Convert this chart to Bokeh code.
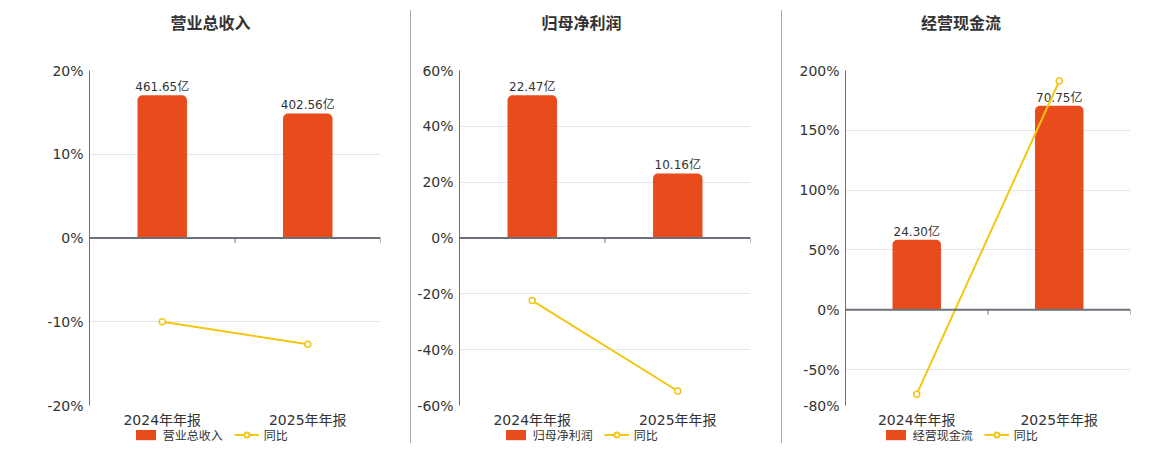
from bokeh.plotting import figure
from bokeh.models import (Range1d, FixedTicker, PrintfTickFormatter, Span, Label,
                          Legend, LegendItem, Div, ColumnDataSource)
from bokeh.layouts import row, column
from bokeh.embed import file_html
from bokeh.resources import INLINE
from bokeh.core.properties import value

# ---- data ----
periods = ["2024年年报", "2025年年报"]
panel_titles = ["营业总收入", "归母净利润", "经营现金流"]
revenue = [461.65, 402.56]
revenue_yoy = [-10.0, -12.7]
net_profit = [22.47, 10.16]
net_profit_yoy = [-22.4, -54.8]
op_cashflow = [24.30, 70.75]
op_cashflow_yoy = [-70.5, 191.2]
ticks_revenue = [-20, -10, 0, 10, 20]
ticks_profit = [-60, -40, -20, 0, 20, 40, 60]
ticks_cashflow = [-80, -50, 0, 50, 100, 150, 200]
yoy_label = "同比"

FONT = "DejaVu Sans, Noto Sans CJK SC"
CJK = "Noto Sans CJK SC"
BAR = "#E84C1D"
LINE = "#F3C614"
AXIS = "#6E7079"
GRID = "#E0E6F1"
TXT = "#333333"
TITLE_H = 46
H = 384
TOP = 24
BOTTOM = 25
LEG_H = 16
FRAME_H = H - TOP - BOTTOM
NAN = float("nan")


def blank(width, height):
    f = figure(width=width, height=height, output_backend="svg", toolbar_location=None,
               x_axis_type=None, y_axis_type=None, x_range=Range1d(0, 1), y_range=Range1d(0, 1),
               min_border=0)
    f.outline_line_color = None
    f.grid.visible = False
    f.background_fill_color = "white"
    f.border_fill_color = "white"
    return f


def panel(title, vals, yoy, ticks, width, left, right, title_cx, legend_x):
    ystart, yend = ticks[0], ticks[-1]
    n = len(periods)
    xs = [i + 0.5 for i in range(n)]

    # title strip (its frame is aligned with the chart frame below it)
    t = blank(width, TITLE_H)
    t.add_layout(Label(x=title_cx, y=TITLE_H - 21.5, x_units="screen", y_units="screen",
                       text=title, text_align="center", text_baseline="middle",
                       text_font=CJK, text_font_size="16px", text_font_style="bold",
                       text_color=TXT))

    p = figure(width=width, height=H, output_backend="svg", toolbar_location=None,
               x_range=Range1d(0, n), y_range=Range1d(ystart, yend),
               min_border_left=left, min_border_right=right,
               min_border_top=TOP, min_border_bottom=BOTTOM)
    p.outline_line_color = None
    p.background_fill_color = "white"
    p.border_fill_color = "white"

    bar_end = max(vals) / 0.8525
    bar_start = bar_end * ystart / yend
    p.extra_y_ranges = {"bar": Range1d(bar_start, bar_end)}

    src = ColumnDataSource(dict(x=xs, v=vals, yoy=yoy,
                                lab=[f"{v:.2f}亿" for v in vals]))
    p.vbar(x="x", top="v", bottom=0, width=0.34, source=src, y_range_name="bar",
           fill_color=BAR, line_color=None, border_radius=(5, 5, 0, 0))
    p.text(x="x", y="v", text="lab", source=src, y_range_name="bar",
           text_align="center", text_baseline="alphabetic", y_offset=-8,
           text_font=value(FONT), text_font_size="12px", text_color=TXT)

    p.add_layout(Span(location=0, dimension="width", line_color=AXIS, line_width=2))
    tick_len = (yend - ystart) / FRAME_H * 5
    bx = list(range(1, n + 1))
    p.segment(x0=bx, y0=[0] * n, x1=bx, y1=[-tick_len] * n, line_color=AXIS, line_width=1)

    p.line(x="x", y="yoy", source=src, line_color=LINE, line_width=2)
    p.scatter(x="x", y="yoy", source=src, marker="circle", size=6,
              fill_color="white", line_color=LINE, line_width=1.5)

    p.yaxis.ticker = FixedTicker(ticks=ticks)
    p.yaxis.formatter = PrintfTickFormatter(format="%d%%")
    p.yaxis.axis_line_color = AXIS
    p.yaxis.major_tick_line_color = None
    p.yaxis.minor_tick_line_color = None
    p.yaxis.major_tick_out = 0
    p.yaxis.major_label_standoff = 6
    p.yaxis.major_label_text_font = FONT
    p.yaxis.major_label_text_font_size = "14px"
    p.yaxis.major_label_text_color = TXT

    p.xaxis.ticker = FixedTicker(ticks=xs)
    p.xaxis.major_label_overrides = {x: lab for x, lab in zip(xs, periods)}
    p.xaxis.axis_line_color = None
    p.xaxis.major_tick_line_color = None
    p.xaxis.minor_tick_line_color = None
    p.xaxis.major_tick_out = 0
    p.xaxis.major_label_standoff = 6
    p.xaxis.major_label_text_font = FONT
    p.xaxis.major_label_text_font_size = "14px"
    p.xaxis.major_label_text_color = TXT

    p.xgrid.grid_line_color = None
    p.ygrid.ticker = FixedTicker(ticks=ticks)
    p.ygrid.grid_line_color = GRID
    p.ygrid.grid_line_width = 1

    # legend strip: key glyphs hold NaN (nothing drawn) and only feed the legend
    lg = blank(width, LEG_H)
    k_bar = lg.vbar(x=[NAN], top=[NAN], width=0.1, fill_color=BAR, line_color=None,
                    border_radius=4)
    k_line = lg.line(x=[NAN], y=[NAN], line_color=LINE, line_width=2)
    k_mark = lg.scatter(x=[NAN], y=[NAN], marker="circle", size=10, fill_color="white",
                        line_color=LINE, line_width=2)
    legend = Legend(items=[LegendItem(label=title, renderers=[k_bar]),
                           LegendItem(label=yoy_label, renderers=[k_line, k_mark])],
                    orientation="horizontal", location=(legend_x, 3),
                    glyph_width=25, glyph_height=13, label_height=13, label_standoff=5,
                    spacing=11, padding=0, margin=0,
                    border_line_color=None, background_fill_alpha=0,
                    label_text_font=CJK, label_text_font_size="12px",
                    label_text_color=TXT)
    lg.add_layout(legend)
    return column(t, p, lg, spacing=0)


c1 = panel(panel_titles[0], revenue, revenue_yoy, ticks_revenue, 410, 89, 30, 121, 43.7)
c2 = panel(panel_titles[1], net_profit, net_profit_yoy, ticks_profit, 370, 48, 31, 122, 43.7)
c3 = panel(panel_titles[2], op_cashflow, op_cashflow_yoy, ticks_cashflow, 362, 63, 14, 115.5, 37.7)


def sep():
    return Div(text="", width=1, height=433, margin=(10, 0, 0, 0),
               styles={"background-color": "#AAAAAA"})


layout = row(c1, sep(), c2, sep(), c3, spacing=0)
open("out.html", "w").write(file_html(layout, INLINE))
